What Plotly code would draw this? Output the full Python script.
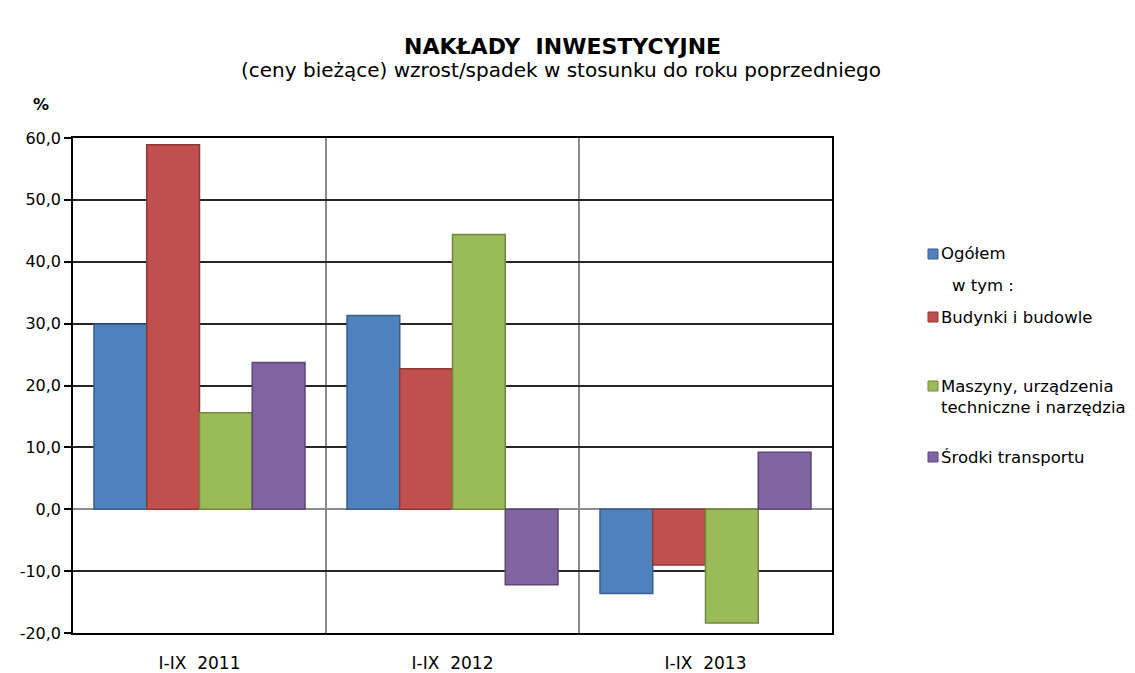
import plotly.graph_objects as go

categories = ["I-IX  2011", "I-IX  2012", "I-IX  2013"]
series_names = ["Ogółem", "Budynki i budowle", "Maszyny, urządzenia<br>techniczne i narzędzia", "Środki transportu"]
values_ogolem = [29.9, 31.3, -13.6]
values_budynki = [58.9, 22.7, -9.0]
values_maszyny = [15.6, 44.4, -18.4]
values_srodki = [23.7, -12.2, 9.2]
fill_colors = ["#4F81BD", "#C0504D", "#9BBB59", "#8064A2"]
line_colors = ["#385D8A", "#8C3836", "#71893F", "#5C4776"]
y_ticks = [-20, -10, 0, 10, 20, 30, 40, 50, 60]
y_tick_labels = ["-20,0", "-10,0", "0,0", "10,0", "20,0", "30,0", "40,0", "50,0", "60,0"]

all_values = [values_ogolem, values_budynki, values_maszyny, values_srodki]

FONT = "DejaVu Sans, Liberation Sans, Arial, sans-serif"

# page body has an 8px margin; work in screen coordinates and convert
OFF = 8
PL, PR, PT, PB = 73, 832, 138, 633  # plot area in screen pixels
W, H = 1135 - OFF, 673 - OFF
PW, PH = PR - PL, PB - PT


def px(x):
    return (x - PL) / PW


def py(y):
    return 1 - (y - PT) / PH


fig = go.Figure()
for name, vals, fc, lc in zip(series_names, all_values, fill_colors, line_colors):
    fig.add_trace(go.Bar(
        x=categories, y=vals, name=name,
        marker=dict(color=fc, line=dict(color=lc, width=1.5)),
        showlegend=False,
    ))

fig.update_layout(
    width=W, height=H,
    barmode="group", bargap=0.166, bargroupgap=0,
    paper_bgcolor="white", plot_bgcolor="white",
    margin=dict(l=PL - OFF, r=W - (PR - OFF), t=PT - OFF, b=H - (PB - OFF), autoexpand=False),
    font=dict(family=FONT, size=16, color="#000000"),
)
fig.update_xaxes(
    type="category",
    showline=True, linecolor="#000000", linewidth=1.5, mirror=True,
    showgrid=True, gridcolor="#8C8C8C", gridwidth=1.5, tickson="boundaries",
    ticks="", tickfont=dict(size=17, family=FONT), ticklabelstandoff=14,
)
fig.update_yaxes(
    range=[-20, 60], tickvals=y_ticks, ticktext=y_tick_labels,
    showline=True, linecolor="#000000", linewidth=1.5, mirror=True,
    showgrid=True, gridcolor="#262626", gridwidth=1.5,
    zeroline=True, zerolinecolor="#8C8C8C", zerolinewidth=2,
    ticks="outside", ticklen=7, tickcolor="#000000", tickwidth=1.5,
    tickfont=dict(size=16, family=FONT),
)

# Titles
fig.add_annotation(text="<b>NAKŁADY  INWESTYCYJNE</b>", xref="paper", yref="paper",
                   x=px(562), y=py(47), showarrow=False,
                   font=dict(size=22, family=FONT), xanchor="center", yanchor="middle")
fig.add_annotation(text="(ceny bieżące) wzrost/spadek w stosunku do roku poprzedniego",
                   xref="paper", yref="paper",
                   x=px(561), y=py(70), showarrow=False,
                   font=dict(size=20, family=FONT), xanchor="center", yanchor="middle")
fig.add_annotation(text="<b>%</b>", xref="paper", yref="paper",
                   x=px(41), y=py(104), showarrow=False,
                   font=dict(size=16, family=FONT), xanchor="center", yanchor="middle")

# Custom legend
square_y = [254, 317, 386, 457]
text_y = [254, 317, 397, 457]
for name, fc, lc, sy, ty in zip(series_names, fill_colors, line_colors, square_y, text_y):
    fig.add_shape(type="rect", xref="paper", yref="paper",
                  x0=px(928), x1=px(938), y0=py(sy + 5), y1=py(sy - 5),
                  fillcolor=fc, line=dict(color=lc, width=1))
    fig.add_annotation(text=name, xref="paper", yref="paper",
                       x=px(939), y=py(ty),
                       showarrow=False, xanchor="left", yanchor="middle", align="left",
                       font=dict(size=16.5, family=FONT))
fig.add_annotation(text="w tym :", xref="paper", yref="paper",
                   x=px(950), y=py(285),
                   showarrow=False, xanchor="left", yanchor="middle",
                   font=dict(size=16.5, family=FONT))

fig.write_html("out.html")
